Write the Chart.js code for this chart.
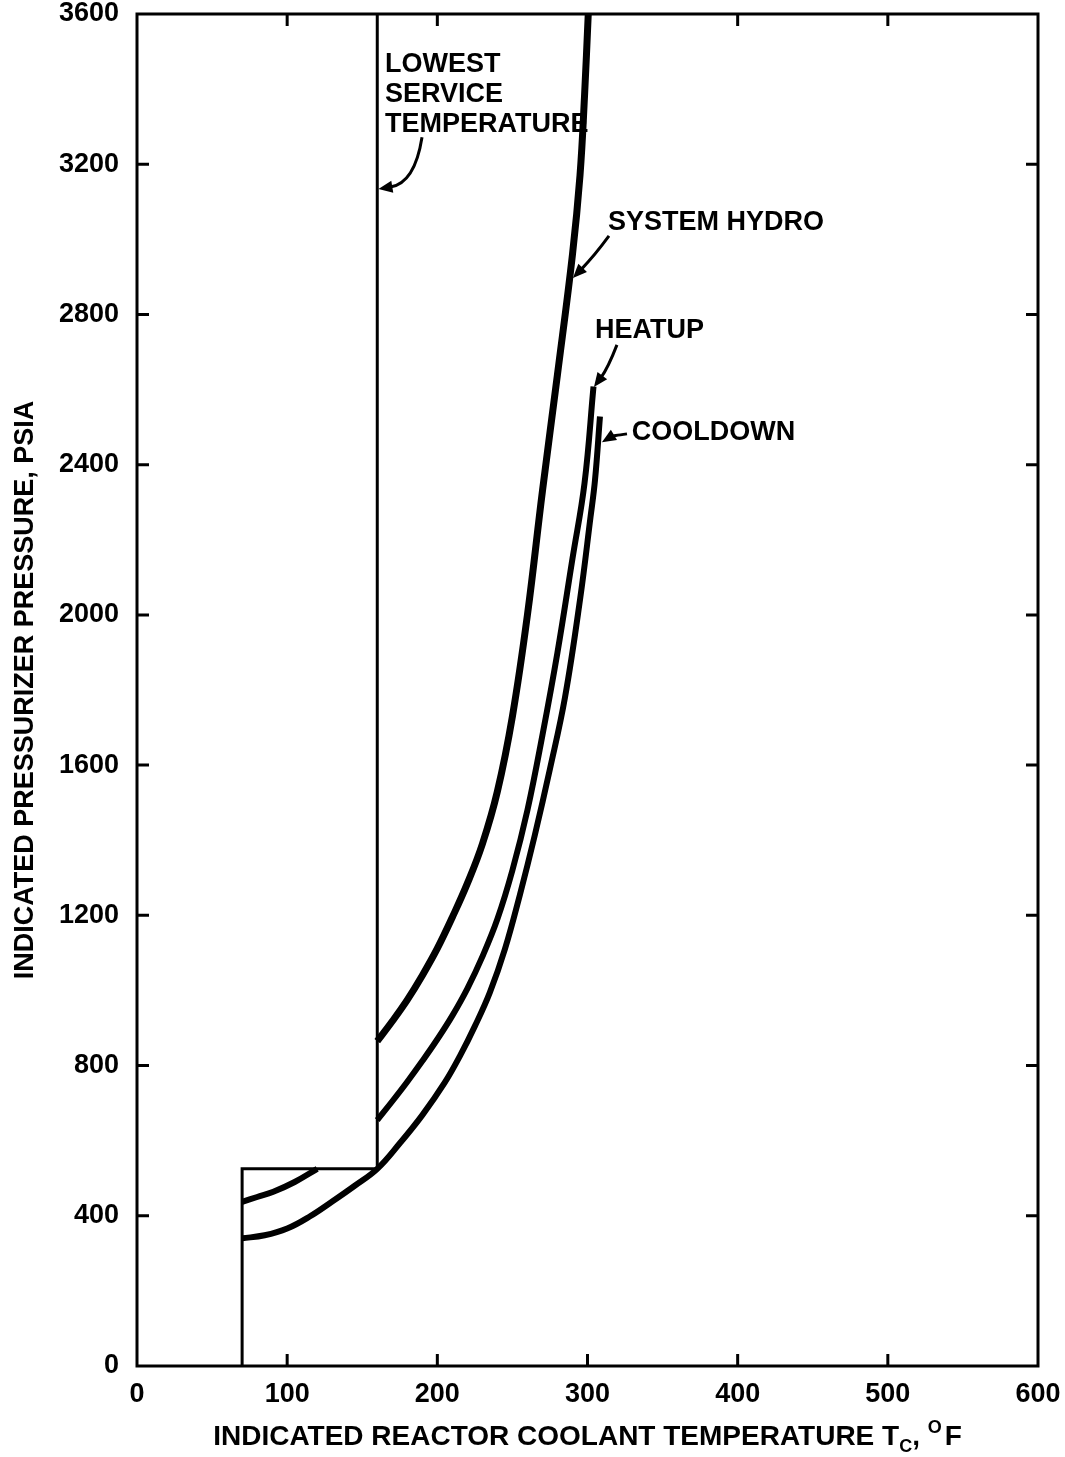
<!DOCTYPE html>
<html><head><meta charset="utf-8">
<script src="https://cdn.jsdelivr.net/npm/chart.js@4.4.0/dist/chart.umd.min.js"></script>
<style>html,body{margin:0;padding:0;background:#fff}canvas{display:block}</style>
</head><body>
<canvas id="c" width="1065" height="1457" style="width:1065px;height:1457px"></canvas>
<script>
// ---- axes ----
const xMin = 0, xMax = 600, xStep = 100;
const yMin = 0, yMax = 3600, yStep = 400;
const xTitleMain = 'INDICATED REACTOR COOLANT TEMPERATURE T';
const xTitleSub = 'C';
const xTitleTail1 = ', ';
const xTitleSup = 'O';
const xTitleTail2 = 'F';
const yTitle = 'INDICATED PRESSURIZER PRESSURE, PSIA';

// ---- series (temperature °F, pressure psia) ----
const hydroTemp  = [160, 170, 180, 190, 200, 210, 220, 230, 240, 250, 260, 270, 280, 290, 295, 298, 300.5];
const hydroPress = [865, 918, 975, 1040, 1112, 1195, 1285, 1390, 1530, 1730, 2000, 2330, 2640, 2960, 3170, 3380, 3600];

const heatupLowTemp  = [70, 80, 90.8, 105, 120];
const heatupLowPress = [437, 450, 464, 490, 525];

const heatupTemp  = [160, 170, 180, 190, 200, 210, 220, 230, 240, 250, 260, 270, 280, 290, 298, 304];
const heatupPress = [655, 705, 757, 812, 870, 933, 1005, 1090, 1190, 1320, 1480, 1680, 1900, 2150, 2350, 2608];

const cooldownTemp  = [70, 85, 100, 115, 130, 145, 160, 175, 190, 205, 215, 225, 235, 245, 255, 265, 275, 285, 295, 302, 305, 308.3];
const cooldownPress = [340, 348, 366, 398, 438, 480, 525, 593, 668, 755, 825, 905, 995, 1110, 1255, 1415, 1590, 1780, 2040, 2260, 2359, 2528];

const lstTemp  = [160, 160];
const lstPress = [525, 3600];

const boxTemp  = [70, 70, 160];
const boxPress = [0, 525, 525];

// ---- annotations (data units) ----
const labelTexts = ['LOWEST', 'SERVICE', 'TEMPERATURE', 'SYSTEM HYDRO', 'HEATUP', 'COOLDOWN'];
const labelTemps = [165.1, 165.1, 165.1, 313.6, 305, 329.4];
const labelPress = [3446, 3366, 3286, 3025, 2737, 2466];

// arrows: start, control, end (tip)
const arrowStartT = [189.8, 314.3, 319.6, 326.3];
const arrowStartP = [3272, 3009, 2719, 2482];
const arrowCtrlT  = [185, 305, 313.6, 316.3];
const arrowCtrlP  = [3150, 2958, 2657, 2476];
const arrowEndT   = [160.8, 290.3, 304.3, 309.6];
const arrowEndP   = [3134, 2897, 2607, 2460];

const FONT = "'Liberation Sans', Arial, Helvetica, sans-serif";

function pts(xs, ys) { return xs.map((x, i) => ({x: x, y: ys[i]})); }

function lineDs(data, width, smooth) {
  return {
    data: data, showLine: true, borderColor: '#000', backgroundColor: '#000',
    borderWidth: width, pointRadius: 0, fill: false,
    tension: smooth ? 0.4 : 0,
    borderCapStyle: 'butt', borderJoinStyle: 'miter'
  };
}

const decor = {
  id: 'decor',
  beforeDraw(chart) {
    const c = chart.ctx;
    c.save(); c.fillStyle = '#fff'; c.fillRect(0, 0, chart.width, chart.height); c.restore();
  },
  afterDatasetsDraw(chart) {
    const c = chart.ctx, xs = chart.scales.x, ys = chart.scales.y;
    c.save();
    c.fillStyle = '#000';
    c.font = 'bold 27px ' + FONT;
    c.textBaseline = 'alphabetic';
    c.textAlign = 'left';
    labelTexts.forEach((t, i) => {
      c.fillText(t, xs.getPixelForValue(labelTemps[i]), ys.getPixelForValue(labelPress[i]));
    });
    c.strokeStyle = '#000';
    c.lineWidth = 3;
    for (let i = 0; i < arrowStartT.length; i++) {
      const sx = xs.getPixelForValue(arrowStartT[i]), sy = ys.getPixelForValue(arrowStartP[i]);
      const cx = xs.getPixelForValue(arrowCtrlT[i]), cy = ys.getPixelForValue(arrowCtrlP[i]);
      const ex = xs.getPixelForValue(arrowEndT[i]), ey = ys.getPixelForValue(arrowEndP[i]);
      const ang = Math.atan2(ey - cy, ex - cx);
      const L = 14, W = 6;
      const bx = ex - L * Math.cos(ang), by = ey - L * Math.sin(ang);
      c.beginPath(); c.moveTo(sx, sy); c.quadraticCurveTo(cx, cy, bx + 2 * Math.cos(ang), by + 2 * Math.sin(ang)); c.stroke();
      c.beginPath();
      c.moveTo(ex, ey);
      c.lineTo(bx + W * Math.sin(ang), by - W * Math.cos(ang));
      c.lineTo(bx - W * Math.sin(ang), by + W * Math.cos(ang));
      c.closePath(); c.fill();
    }
    c.restore();
  },
  afterDraw(chart) {
    const c = chart.ctx, a = chart.chartArea, xs = chart.scales.x, ys = chart.scales.y;
    c.save();
    c.strokeStyle = '#000';
    c.lineWidth = 3;
    c.strokeRect(a.left, a.top, a.right - a.left, a.bottom - a.top);
    const tl = 12;
    c.beginPath();
    xs.ticks.forEach(t => {
      if (t.value <= xMin || t.value >= xMax) return;
      const px = xs.getPixelForValue(t.value);
      c.moveTo(px, a.bottom); c.lineTo(px, a.bottom - tl);
      c.moveTo(px, a.top); c.lineTo(px, a.top + tl);
    });
    ys.ticks.forEach(t => {
      if (t.value <= yMin || t.value >= yMax) return;
      const py = ys.getPixelForValue(t.value);
      c.moveTo(a.left, py); c.lineTo(a.left + tl, py);
      c.moveTo(a.right, py); c.lineTo(a.right - tl, py);
    });
    c.stroke();
    // x-axis title with subscript / superscript
    c.fillStyle = '#000';
    c.textBaseline = 'alphabetic';
    c.textAlign = 'left';
    const big = 'bold 28px ' + FONT, small = 'bold 18px ' + FONT;
    c.font = big; const w1 = c.measureText(xTitleMain).width;
    c.font = small; const w2 = c.measureText(xTitleSub).width;
    c.font = big; const w3 = c.measureText(xTitleTail1).width;
    c.font = small; const w4 = c.measureText(xTitleSup).width + 3;
    c.font = big; const w5 = c.measureText(xTitleTail2).width;
    const total = w1 + w2 + w3 + w4 + w5;
    let x = (a.left + a.right) / 2 - total / 2;
    const base = 1445;
    c.font = big; c.fillText(xTitleMain, x, base); x += w1;
    c.font = small; c.fillText(xTitleSub, x, base + 7); x += w2;
    c.font = big; c.fillText(xTitleTail1, x, base); x += w3;
    c.font = small; c.fillText(xTitleSup, x, base - 12); x += w4;
    c.font = big; c.fillText(xTitleTail2, x, base);
    c.restore();
  }
};

new Chart(document.getElementById('c'), {
  type: 'scatter',
  data: {
    datasets: [
      lineDs(pts(boxTemp, boxPress), 3, false),
      lineDs(pts(lstTemp, lstPress), 3, false),
      lineDs(pts(hydroTemp, hydroPress), 7, true),
      lineDs(pts(heatupLowTemp, heatupLowPress), 6, true),
      lineDs(pts(heatupTemp, heatupPress), 6, true),
      lineDs(pts(cooldownTemp, cooldownPress), 6, true)
    ]
  },
  options: {
    responsive: false,
    animation: false,
    devicePixelRatio: 1,
    layout: {padding: {top: 14, right: 27, left: 0, bottom: 0}},
    plugins: {legend: {display: false}, tooltip: {enabled: false}},
    scales: {
      x: {
        type: 'linear', min: xMin, max: xMax,
        ticks: {stepSize: xStep, padding: 15, color: '#000', font: {family: FONT, size: 27, weight: 'bold', lineHeight: 1},
                callback: v => String(v)},
        grid: {display: false, drawTicks: false},
        border: {display: false},
        afterFit(s) { s.height = 91; s.paddingLeft = 0; s.paddingRight = 0; }
      },
      y: {
        type: 'linear', min: yMin, max: yMax,
        ticks: {stepSize: yStep, padding: 18, color: '#000', font: {family: FONT, size: 27, weight: 'bold', lineHeight: 1},
                callback: v => String(v)},
        grid: {display: false, drawTicks: false},
        border: {display: false},
        title: {display: true, text: yTitle, color: '#000', font: {family: FONT, size: 27, weight: 'bold', lineHeight: 1.2}, padding: {top: 9, bottom: 0}},
        afterFit(s) { s.width = 137; s.paddingTop = 0; s.paddingBottom = 0; }
      }
    }
  },
  plugins: [decor]
});
</script>
</body></html>
